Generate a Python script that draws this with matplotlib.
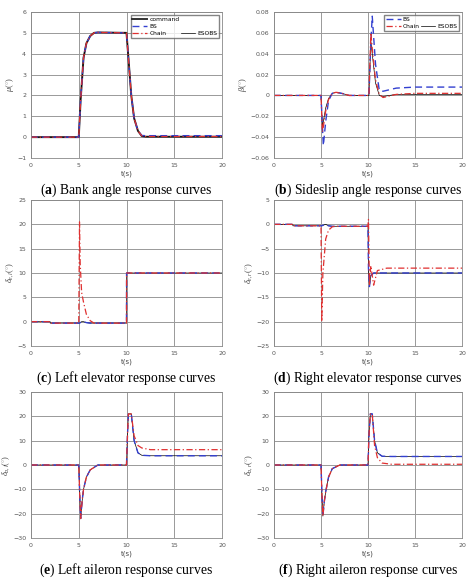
import matplotlib
matplotlib.use("Agg")
import matplotlib.pyplot as plt
from matplotlib.lines import Line2D

plt.rcParams['mathtext.fontset'] = 'custom'
plt.rcParams['mathtext.rm'] = 'Liberation Serif'
plt.rcParams['mathtext.it'] = 'Liberation Serif:italic'
plt.rcParams['mathtext.bf'] = 'Liberation Serif:bold'

# ---- data ----
# (a) bank angle
a_cmd_t = [0, 5, 5.2, 5.5, 5.8, 6.2, 6.6, 7, 10, 10.2, 10.5, 10.8, 11.2, 11.6, 12, 20]
a_cmd_y = [0, 0, 1.8, 3.8, 4.5, 4.85, 5.0, 5.02, 5.0, 3.8, 2.0, 0.9, 0.3, 0.05, 0.02, 0.02]
a_bs_y = [0, 0, 1.8, 3.8, 4.5, 4.85, 5.0, 5.02, 5.0, 3.8, 2.0, 0.9, 0.3, 0.08, 0.07, 0.07]
a_ch_y = [0, 0, 1.8, 3.8, 4.5, 4.85, 5.0, 5.02, 5.0, 3.8, 2.0, 0.9, 0.3, 0.06, 0.03, 0.03]

# (b) sideslip angle
b_t = [0, 5, 5.15, 5.25, 5.5, 5.8, 6.2, 6.6, 7.2, 8, 10.1, 10.3, 10.45, 10.8, 11.2, 11.6, 13, 15, 20]
b_bs_y = [0, 0, -0.03, -0.048, -0.025, -0.005, 0.002, 0.003, 0.002, 0, 0, 0.05, 0.076, 0.03, 0.005, 0.004, 0.007, 0.008, 0.008]
b_ch_y = [0, 0, -0.035, -0.03, -0.015, -0.004, 0.002, 0.003, 0.002, 0, 0, 0.06, 0.045, 0.015, 0.001, -0.002, 0.001, 0.002, 0.002]
b_es_y = [0, 0, -0.03, -0.025, -0.012, -0.003, 0.002, 0.003, 0.002, 0, 0, 0.052, 0.04, 0.012, 0.0, -0.001, 0.001, 0.001, 0.001]

# (c) left elevator
c_t = [0, 2, 2.01, 5, 5.08, 5.15, 5.3, 5.5, 5.8, 6.2, 6.6, 10, 10.01, 20]
c_bs_y = [0, 0, -0.3, -0.3, -0.3, -0.2, 0.0, 0.0, -0.2, -0.3, -0.3, -0.3, 10, 10]
c_ch_y = [0, 0, -0.3, -0.3, 20.5, 12, 6, 4, 1.5, 0.2, -0.3, -0.3, 10, 10]

# (d) right elevator
d_t = [0, 2, 2.01, 5, 5.08, 5.2, 5.5, 5.8, 6.2, 6.6, 10, 10.05, 10.15, 10.3, 10.6, 11, 12, 20]
d_bs_y = [0, 0, -0.3, -0.3, -0.3, -0.2, 0.0, -0.3, -0.4, -0.4, -0.4, -9, -12.8, -10.5, -10, -10, -10, -10]
d_ch_y = [0, 0, -0.3, -0.3, -20, -10, -3, -1.2, -0.5, -0.4, -0.4, 1, -12.5, -8.5, -12.5, -9.5, -9, -9]

# (e) left aileron
e_t = [0, 5, 5.1, 5.2, 5.35, 5.5, 5.8, 6.2, 7, 10, 10.1, 10.2, 10.5, 10.8, 11.2, 11.6, 12.5, 20]
e_bs_y = [0, 0, -12, -22, -15, -10, -5, -2, 0, 0, 12, 21, 21, 10, 5, 4, 3.8, 3.8]
e_ch_y = [0, 0, -12, -22, -15, -10, -5, -2, 0, 0, 12, 21, 21, 12, 8, 7, 6.3, 6.3]

# (f) right aileron
f_t = [0, 5, 5.1, 5.2, 5.35, 5.5, 5.8, 6.2, 7, 10, 10.1, 10.25, 10.45, 10.7, 11, 11.5, 12.5, 20]
f_bs_y = [0, 0, -12, -21, -15, -11, -5, -1.5, 0, 0, 12, 21, 21, 10, 5, 3.6, 3.5, 3.5]
f_ch_y = [0, 0, -12, -21, -15, -11, -5, -1.5, 0, 0, 12, 21, 21, 8, 3, 0.8, 0.3, 0.3]

captions = ["Bank angle response curves", "Sideslip angle response curves",
            "Left elevator response curves", "Right elevator response curves",
            "Left aileron response curves", "Right aileron response curves"]
letters = ["a", "b", "c", "d", "e", "f"]
ylabels = [r"$\mu(^{\circ})$", r"$\beta(^{\circ})$", r"$\delta_{e,l}(^{\circ})$",
           r"$\delta_{e,r}(^{\circ})$", r"$\delta_{a,l}(^{\circ})$", r"$\delta_{a,r}(^{\circ})$"]
ylims = [(-1, 6), (-0.06, 0.08), (-5, 25), (-25, 5), (-30, 30), (-30, 30)]
yticks = [range(-1, 7), [-0.06, -0.04, -0.02, 0, 0.02, 0.04, 0.06, 0.08],
          range(-5, 26, 5), range(-25, 6, 5), range(-30, 31, 10), range(-30, 31, 10)]

W, H = 474, 588
fig = plt.figure(figsize=(W / 100, H / 100), dpi=100)

lefts = [31, 274]
tops = [12, 200, 392]
aw = [191, 188]
ah = 146

bs_kw = dict(color="#3340d0", ls=(0, (5, 3)), lw=1.0)
ch_kw = dict(color="#e03030", ls=(0, (5, 2, 1, 2)), lw=0.9)

axes = []
for i in range(6):
    r, c = divmod(i, 2)
    x0, y0 = lefts[c], tops[r]
    ax = fig.add_axes([x0 / W, 1 - (y0 + ah) / H, aw[c] / W, ah / H])
    axes.append(ax)
    ax.set_xlim(0, 20)
    ax.set_ylim(*ylims[i])
    ax.set_xticks([0, 5, 10, 15, 20])
    ax.set_yticks(list(yticks[i]))
    if i == 1:
        ax.set_yticklabels(["−0.06", "−0.04", "−0.02", "0", "0.02", "0.04", "0.06", "0.08"])
    ax.grid(True, color="#999999", lw=0.7)
    ax.tick_params(labelsize=4.5, length=0, colors="#555555")
    for s in ax.spines.values():
        s.set_color("#888888")
        s.set_linewidth(0.6)
    ax.set_xlabel("t(s)", fontsize=5, color="#444444", labelpad=2)
    ax.set_ylabel(ylabels[i], fontsize=6, color="#444444", labelpad=1)
    fig.text((x0 + aw[c] / 2) / W, 1 - (y0 + ah + 32) / H,
             "(" + r"$\mathbf{" + letters[i] + "}$" + ") " + captions[i],
             ha="center", va="center", fontsize=9.8, family="Liberation Serif")

ax = axes[0]
ax.plot(a_cmd_t, a_cmd_y, color="#333333", lw=1.4)
ax.plot(a_cmd_t, a_cmd_y, color="black", lw=0.5)
ax.plot(a_cmd_t, a_bs_y, **bs_kw)
ax.plot(a_cmd_t, a_ch_y, **ch_kw)
hs = [Line2D([], [], color="#333333", lw=1.4), Line2D([], [], **bs_kw),
      Line2D([], [], **ch_kw), Line2D([], [], lw=0), Line2D([], [], lw=0),
      Line2D([], [], color="black", lw=0.5)]
ax.legend(hs, ["command", "BS", "Chain", "", "", "ESOBS"], ncol=2, fontsize=4.3,
          loc="upper right", handlelength=2.5, columnspacing=0.2, handletextpad=0.3,
          labelspacing=0.3, fancybox=False, edgecolor="#666666", borderpad=0.3)

ax = axes[1]
ax.plot(b_t, b_es_y, color="black", lw=0.5)
ax.plot(b_t, b_bs_y, **bs_kw)
ax.plot(b_t, b_ch_y, **ch_kw)
hs = [Line2D([], [], **bs_kw), Line2D([], [], **ch_kw), Line2D([], [], lw=0),
      Line2D([], [], color="black", lw=0.5)]
ax.legend(hs, ["BS", "Chain", "", "ESOBS"], ncol=2, fontsize=4.3,
          loc="upper right", handlelength=2.5, columnspacing=0.2, handletextpad=0.3,
          labelspacing=0.3, fancybox=False, edgecolor="#666666", borderpad=0.3)

for ax, t, bs, ch in [(axes[2], c_t, c_bs_y, c_ch_y), (axes[3], d_t, d_bs_y, d_ch_y),
                      (axes[4], e_t, e_bs_y, e_ch_y), (axes[5], f_t, f_bs_y, f_ch_y)]:
    ax.plot(t, bs, color="black", lw=0.5)
    ax.plot(t, bs, **bs_kw)
    ax.plot(t, ch, **ch_kw)

fig.savefig("out.png", dpi=100)
